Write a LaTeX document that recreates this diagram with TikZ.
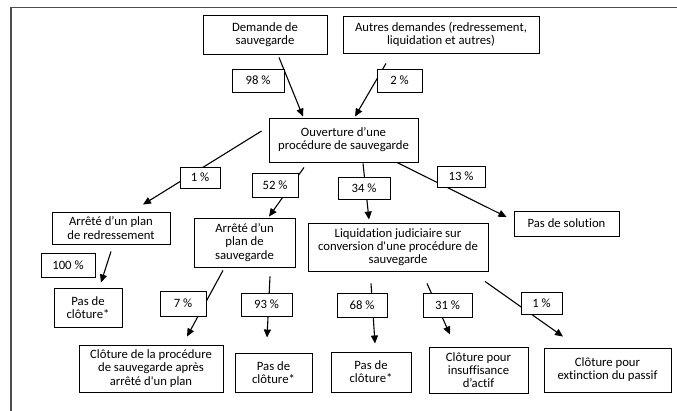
\documentclass[tikz,border=0pt]{standalone}
\usepackage{fontspec}
\setmainfont{Carlito}[Ligatures={TeXOff,NoCommon}]
\usetikzlibrary{arrows.meta}
\begin{document}
\begin{tikzpicture}[x=1pt,y=-1pt,
  box/.style={draw=black,line width=0.9pt,align=center,inner sep=0pt,font=\fontsize{12.7}{13.2}\selectfont},
  pct/.style={box,fill=white},
  arr/.style={line width=1.1pt,-{Triangle[length=8pt,width=7pt]}}]
\useasboundingbox (0,0) rectangle (677,411);
\draw[line width=1.4pt,black!70] (11,411) -- (11,7.5) -- (677,7.5);
% main boxes
\node[box,minimum width=124,minimum height=39] (dem) at (265,34.5) {Demande de\\sauvegarde};
\node[box,minimum width=196,minimum height=37] (aut) at (441,34.5) {Autres demandes (redressement,\\liquidation et autres)};
\node[box,minimum width=149,minimum height=44] (ouv) at (343.5,140) {Ouverture d’une\\procédure de sauvegarde};
\node[box,minimum width=118,minimum height=32] (red) at (111,228) {Arrêté d’un plan\\de redressement};
\node[box,minimum width=101,minimum height=49] (sauv) at (244.5,242.5) {Arrêté d’un\\plan de\\sauvegarde};
\node[box,minimum width=180,minimum height=48] (liq) at (398,247) {Liquidation judiciaire sur\\conversion d'une procédure de\\sauvegarde};
\node[box,minimum width=105,minimum height=25] (sol) at (566.5,223.5) {Pas de solution};
\node[box,minimum width=68,minimum height=39] (pdc1) at (88,307.5) {Pas de\\clôture*};
\node[box,minimum width=144,minimum height=47] (clo) at (151,368.5) {Clôture de la procédure\\de sauvegarde après\\arrêté d'un plan};
\node[box,minimum width=77,minimum height=39] (pdc2) at (273.5,372.5) {Pas de\\clôture*};
\node[box,minimum width=80,minimum height=40] (pdc3) at (371,372) {Pas de\\clôture*};
\node[box,minimum width=99,minimum height=46] (ins) at (478.5,370) {Clôture pour\\insuffisance\\d’actif};
\node[box,minimum width=127,minimum height=44] (ext) at (607.5,370) {Clôture pour\\extinction du passif};
% connectors
\draw[arr] ([shift={(14,3)}]dem.south) -- ([shift={(-40.5,-1)}]ouv.north);
\draw[arr] ([shift={(-55,10)}]aut.south) -- ([shift={(11.5,-1)}]ouv.north);
\draw[arr] ([shift={(-7,-9)}]ouv.west) -- ([shift={(32,-7)}]red.north);
\draw[arr] ([shift={(-39.5,5)}]ouv.south) -- ([shift={(24.5,-1)}]sauv.north);
\draw[arr] ([shift={(19.5,1)}]ouv.south) -- ([shift={(-29,-3)}]liq.north);
\draw[arr] ([shift={(53.5,0)}]ouv.south) -- ([shift={(-7,-6.5)}]sol.west);
\draw[arr] ([shift={(0,7)}]red.south) -- ([shift={(13,-5)}]pdc1.north);
\draw[arr] ([shift={(-21.5,3)}]sauv.south) -- ([shift={(36,-8)}]clo.north);
\draw[arr] ([shift={(25.5,9)}]sauv.south) -- ([shift={(-6.5,-15)}]pdc2.north);
\draw[arr] ([shift={(-27,12)}]liq.south) -- ([shift={(4,-8)}]pdc3.north);
\draw[arr] ([shift={(29,12)}]liq.south) -- ([shift={(-28.5,-12)}]ins.north);
\draw[arr] ([shift={(87,10)}]liq.south) -- ([shift={(-44.5,-11)}]ext.north);
% percentage labels
\node[pct,minimum width=52,minimum height=23] (p98) at (258,80.5) {98 \%};
\node[pct,minimum width=45,minimum height=23] (p2) at (399.5,80.5) {2 \%};
\node[pct,minimum width=40,minimum height=21] (p1a) at (200,177.5) {1 \%};
\node[pct,minimum width=46,minimum height=24] (p52) at (275,185) {52 \%};
\node[pct,minimum width=52,minimum height=22] (p34) at (364,188) {34 \%};
\node[pct,minimum width=48,minimum height=21] (p13) at (461,176.5) {13 \%};
\node[pct,minimum width=54,minimum height=24] (p100) at (68,265) {100 \%};
\node[pct,minimum width=46,minimum height=25] (p7) at (183,303.5) {7 \%};
\node[pct,minimum width=51,minimum height=23] (p93) at (266.5,304.5) {93 \%};
\node[pct,minimum width=50,minimum height=24] (p68) at (362,305) {68 \%};
\node[pct,minimum width=49,minimum height=24] (p31) at (447.5,305) {31 \%};
\node[pct,minimum width=41,minimum height=22] (p1b) at (541.5,303) {1 \%};
\end{tikzpicture}
\end{document}
